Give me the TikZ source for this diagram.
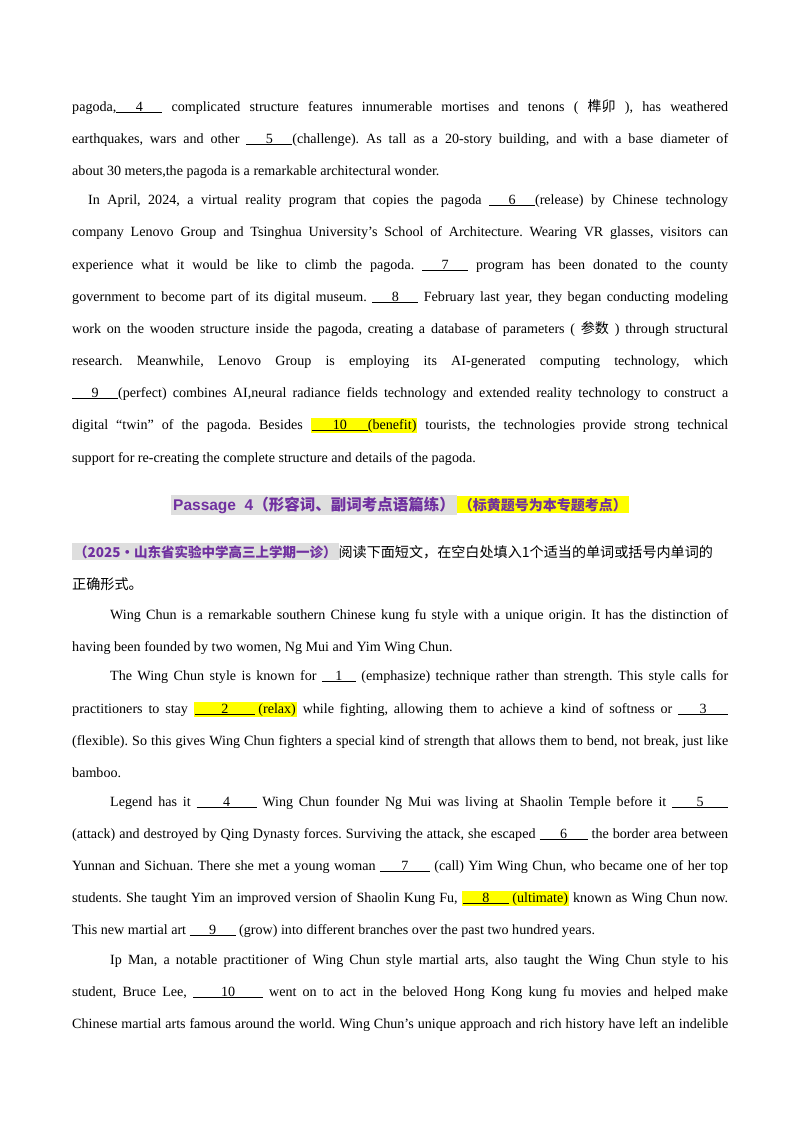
\documentclass[tikz,border=0pt]{standalone}
\usepackage{fontspec}
\setmainfont{Liberation Serif}
\newfontfamily\cjk{Noto Sans CJK SC}
\newfontfamily\hd{Liberation Sans}
\definecolor{pur}{RGB}{112,48,160}
\definecolor{gbox}{RGB}{222,222,222}
\definecolor{hly}{RGB}{255,255,0}
\newcommand{\blk}[2][46pt]{\underline{\makebox[#1][c]{#2}}}
\newcommand{\hlt}[1]{{\setlength{\fboxsep}{1pt}\colorbox{hly}{#1}}}
\newcommand{\cj}[1]{{\cjk #1}}
\tikzset{ln/.style={anchor=base west,inner sep=0pt,font=\fontsize{14.1}{16}\selectfont\frenchspacing}}
\newcommand{\JLine}[3]{\node[ln] at (#1,#2) {\makebox[\dimexpr728pt-#1pt\relax][s]{#3}};}
\newcommand{\PLine}[3]{\node[ln] at (#1,#2) {#3};}
\begin{document}
\begin{tikzpicture}[x=1pt,y=-1pt]
\useasboundingbox[fill=white] (0,0) rectangle (800,1132);
\JLine{72}{111}{pagoda,\blk{4} complicated structure features innumerable mortises and tenons ( \cj{榫卯} ), has weathered}
\JLine{72}{143}{earthquakes, wars and other \blk{5}(challenge). As tall as a 20-story building, and with a base diameter of}
\PLine{72}{175}{about 30 meters,the pagoda is a remarkable architectural wonder.}
\JLine{88}{204}{In April, 2024, a virtual reality program that copies the pagoda \blk{6}(release) by Chinese technology}
\JLine{72}{236}{company Lenovo Group and Tsinghua University’s School of Architecture. Wearing VR glasses, visitors can}
\JLine{72}{269}{experience what it would be like to climb the pagoda. \blk{7} program has been donated to the county}
\JLine{72}{301}{government to become part of its digital museum. \blk{8} February last year, they began conducting modeling}
\JLine{72}{333}{work on the wooden structure inside the pagoda, creating a database of parameters ( \cj{参数} ) through structural}
\JLine{72}{365}{research. Meanwhile, Lenovo Group is employing its AI-generated computing technology, which}
\JLine{72}{397}{\blk{9}(perfect) combines AI,neural radiance fields technology and extended reality technology to construct a}
\JLine{72}{429}{digital “twin” of the pagoda. Besides \hlt{\blk[56pt]{10}(benefit)} tourists, the technologies provide strong technical}
\PLine{72}{462}{support for re-creating the complete structure and details of the pagoda.}
\node[anchor=base,inner sep=0pt,font=\fontsize{15.5}{17}\selectfont\bfseries] (hd) at (400,510)
 {\setlength{\fboxsep}{2pt}\colorbox{gbox}{\textcolor{pur}{{\hd Passage\ \ 4}\cj{（形容词、副词考点语篇练）}}}\colorbox{hly}{\textcolor{pur}{\fontsize{14}{16}\selectfont\cj{（标黄题号为本专题考点）}}}};
\node[ln] (src) at (72,557) {\setlength{\fboxsep}{2pt}\colorbox{gbox}{\textcolor{pur}{\bfseries\fontsize{13.5}{16}\selectfont\cj{（2025·山东省实验中学高三上学期一诊）}}}\cj{阅读下面短文，在空白处填入1个适当的单词或括号内单词的}};
\PLine{72}{589}{\cj{正确形式。}}
\JLine{110}{619}{Wing Chun is a remarkable southern Chinese kung fu style with a unique origin. It has the distinction of}
\PLine{72}{651}{having been founded by two women, Ng Mui and Yim Wing Chun.}
\JLine{110}{680}{The Wing Chun style is known for \blk[34pt]{1} (emphasize) technique rather than strength. This style calls for}
\JLine{72}{713}{practitioners to stay \hlt{\blk[60pt]{2} (relax)} while fighting, allowing them to achieve a kind of softness or \blk[50pt]{3}}
\JLine{72}{745}{(flexible). So this gives Wing Chun fighters a special kind of strength that allows them to bend, not break, just like}
\PLine{72}{777}{bamboo.}
\JLine{110}{806}{Legend has it \blk[60pt]{4} Wing Chun founder Ng Mui was living at Shaolin Temple before it \blk[56pt]{5}}
\JLine{72}{838}{(attack) and destroyed by Qing Dynasty forces. Surviving the attack, she escaped \blk[48pt]{6} the border area between}
\JLine{72}{870}{Yunnan and Sichuan. There she met a young woman \blk[50pt]{7} (call) Yim Wing Chun, who became one of her top}
\JLine{72}{902}{students. She taught Yim an improved version of Shaolin Kung Fu, \hlt{\blk[46pt]{8} (ultimate)} known as Wing Chun now.}
\PLine{72}{934}{This new martial art \blk[46pt]{9} (grow) into different branches over the past two hundred years.}
\JLine{110}{964}{Ip Man, a notable practitioner of Wing Chun style martial arts, also taught the Wing Chun style to his}
\JLine{72}{996}{student, Bruce Lee, \blk[70pt]{10} went on to act in the beloved Hong Kong kung fu movies and helped make}
\JLine{72}{1028}{Chinese martial arts famous around the world. Wing Chun’s unique approach and rich history have left an indelible}
\end{tikzpicture}
\end{document}
